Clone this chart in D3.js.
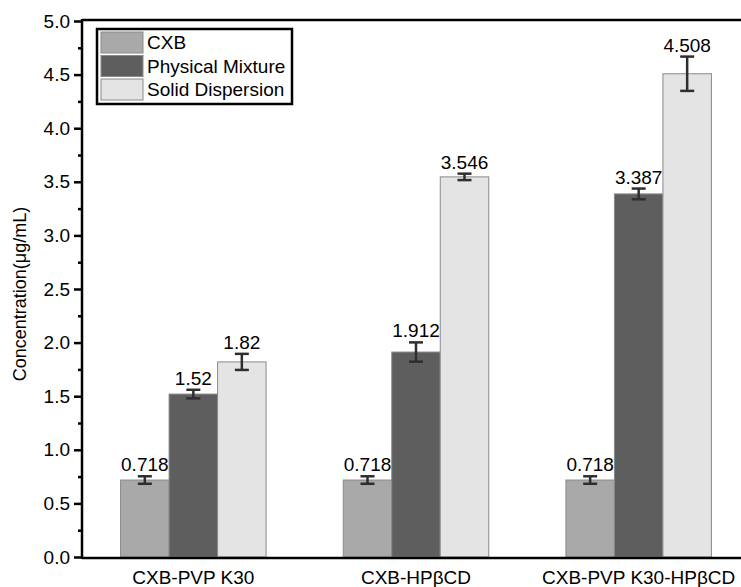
<!DOCTYPE html>
<html>
<head>
<meta charset="utf-8">
<script src="https://cdn.jsdelivr.net/npm/d3@7"></script>
<style>
  body { margin: 0; background: #fff; }
  svg { font-family: "Liberation Sans", Arial, sans-serif; }
</style>
</head>
<body>
<svg id="chart" width="741" height="587"></svg>
<script>
const groups = ["CXB-PVP K30", "CXB-HPβCD", "CXB-PVP K30-HPβCD"];
const series = ["CXB", "Physical Mixture", "Solid Dispersion"];
const values = [
    [0.718, 1.52, 1.82],
    [0.718, 1.912, 3.546],
    [0.718, 3.387, 4.508]
];
const errors = [
    [0.035, 0.04, 0.075],
    [0.035, 0.09, 0.03],
    [0.035, 0.05, 0.16]
];
const labels = [
    ["0.718", "1.52", "1.82"],
    ["0.718", "1.912", "3.546"],
    ["0.718", "3.387", "4.508"]
];
const yTicks = [0, 0.5, 1, 1.5, 2, 2.5, 3, 3.5, 4, 4.5, 5];
const yMinor = d3.range(0.25, 5, 0.5);

const colors = ["#a9a9a9", "#5e5e5e", "#e4e4e4"];

(function() {
    const svg = d3.select("#chart");
    const left = 82, plotTop = 21, plotBottom = 557, right = 750;
    const fs = 19;

    const x = d3.scalePoint().domain(groups).range([left, right]).padding(0.5);
    const barW = 48.5;
    const y = d3.scaleLinear().domain([0, 5]).range([plotBottom, plotTop]);

    // bars + error bars + value labels
    const g = svg.append("g");
    groups.forEach((grp, gi) => {
        series.forEach((s, si) => {
            const v = values[gi][si];
            const bx = x(grp) + (si - 1.5) * barW;
            g.append("rect")
                .attr("x", bx).attr("y", y(v))
                .attr("width", barW).attr("height", y(0) - y(v))
                .attr("fill", colors[si])
                .attr("stroke", "#8a8a8a").attr("stroke-width", 1);
            const cx = bx + barW / 2, e = errors[gi][si];
            const eb = g.append("g").attr("stroke", "#2e2e2e").attr("stroke-width", 2.5);
            eb.append("line").attr("x1", cx).attr("x2", cx).attr("y1", y(v + e)).attr("y2", y(v - e));
            [v + e, v - e].forEach(c => eb.append("line")
                .attr("x1", cx - 7).attr("x2", cx + 7).attr("y1", y(c)).attr("y2", y(c)));
            g.append("text")
                .attr("x", cx).attr("y", y(v + e) - 5)
                .attr("text-anchor", "middle")
                .attr("font-size", fs)
                .text(labels[gi][si]);
        });
    });

    // y axis, major + minor ticks
    const yAxis = svg.append("g").attr("transform", `translate(${left},0)`)
        .call(d3.axisLeft(y).tickValues(yTicks).tickFormat(d3.format(".1f")).tickSize(8).tickPadding(4));
    yAxis.select(".domain").remove();
    yAxis.selectAll(".tick line").attr("stroke-width", 2.5);
    yAxis.selectAll(".tick text").attr("font-size", fs).attr("fill", "#000")
        .attr("font-family", "Liberation Sans, Arial, sans-serif");
    svg.append("g").attr("transform", `translate(${left},0)`)
        .call(d3.axisLeft(y).tickValues(yMinor).tickFormat("").tickSize(4))
        .call(a => a.select(".domain").remove())
        .selectAll(".tick line").attr("stroke-width", 2.5);

    // frame lines
    svg.append("line").attr("x1", left).attr("x2", 741).attr("y1", plotTop - 1).attr("y2", plotTop - 1)
        .attr("stroke", "#000").attr("stroke-width", 2.5);
    svg.append("line").attr("x1", left).attr("x2", 741).attr("y1", plotBottom + 1).attr("y2", plotBottom + 1)
        .attr("stroke", "#000").attr("stroke-width", 2.5);
    svg.append("line").attr("x1", left).attr("x2", left).attr("y1", plotTop - 2).attr("y2", plotBottom + 2)
        .attr("stroke", "#000").attr("stroke-width", 2.5);

    // x labels
    svg.append("g").selectAll("text").data(groups).join("text")
        .attr("x", d => x(d)).attr("y", 584)
        .attr("text-anchor", "middle").attr("font-size", fs)
        .text(d => d);

    // y title
    svg.append("text")
        .attr("transform", `translate(26,${(plotTop + plotBottom) / 2 + 5}) rotate(-90)`)
        .attr("text-anchor", "middle").attr("font-size", 18)
        .text("Concentration(μg/mL)");

    // legend
    const lg = svg.append("g").attr("transform", "translate(97,29)");
    lg.append("rect").attr("width", 195).attr("height", 75)
        .attr("fill", "#fff").attr("stroke", "#000").attr("stroke-width", 2.5);
    series.forEach((s, i) => {
        lg.append("rect").attr("x", 4).attr("y", 3 + i * 23.5).attr("width", 42).attr("height", 21)
            .attr("fill", colors[i]).attr("stroke", "#8a8a8a").attr("stroke-width", 1);
        lg.append("text").attr("x", 50).attr("y", 20 + i * 23.5)
            .attr("font-size", fs).text(s);
    });
})();
</script>
</body>
</html>
